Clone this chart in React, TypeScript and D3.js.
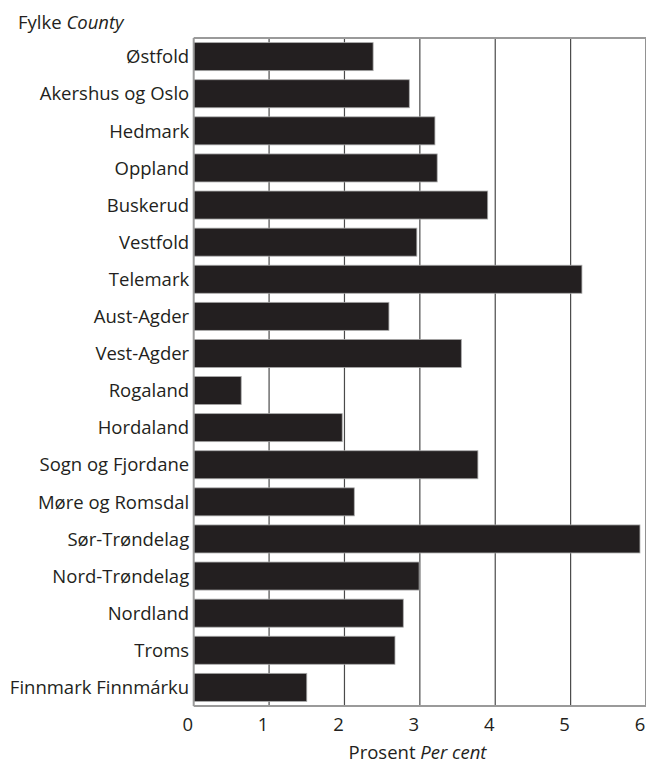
import React from 'react'
import * as d3 from 'd3'

const counties = [
  'Østfold',
  'Akershus og Oslo',
  'Hedmark',
  'Oppland',
  'Buskerud',
  'Vestfold',
  'Telemark',
  'Aust-Agder',
  'Vest-Agder',
  'Rogaland',
  'Hordaland',
  'Sogn og Fjordane',
  'Møre og Romsdal',
  'Sør-Trøndelag',
  'Nord-Trøndelag',
  'Nordland',
  'Troms',
  'Finnmark Finnmárku'
]
const percent = [
  2.38, 2.86, 3.2, 3.23, 3.9, 2.96, 5.15, 2.59, 3.55, 0.63, 1.97, 3.77, 2.13,
  5.92, 2.99, 2.78, 2.67, 1.5
]
const ticks = [0, 1, 2, 3, 4, 5, 6]

const W = 646
const H = 762
const left = 193.7
const right = 646
const top = 38
const bottom = 706
const font = '"Open Sans", "Noto Sans", sans-serif'

export default function App() {
  const x = d3.scaleLinear().domain([0, 6]).range([left, right])
  const y = d3
    .scaleBand<string>()
    .domain(counties)
    .range([top, bottom])
    .paddingInner(0.245)
    .paddingOuter(0.125)

  return (
    <svg
      width={W}
      height={H}
      style={{ position: 'absolute', left: 0, top: 0, background: '#fff' }}
      fontFamily={font}
    >
      {/* grid */}
      {ticks.slice(1).map(t => (
        <line
          key={'g' + t}
          x1={x(t)}
          x2={x(t)}
          y1={top}
          y2={bottom}
          stroke="#4a4a4a"
          strokeWidth={1.2}
        />
      ))}
      {counties.map((c, i) => (
        <rect
          key={c}
          x={x(0)}
          y={y(c)}
          width={x(percent[i]) - x(0)}
          height={y.bandwidth()}
          fill="#231f20"
          stroke="#a8a8a8"
          strokeWidth={0.8}
        />
      ))}
      {/* frame */}
      <line x1={left} x2={W} y1={top} y2={top} stroke="#9a9a9a" strokeWidth={2} />
      <line x1={left} x2={left} y1={top} y2={bottom} stroke="#9a9a9a" strokeWidth={2} />
      <line x1={left} x2={W} y1={bottom} y2={bottom} stroke="#9a9a9a" strokeWidth={2} />

      {counties.map(c => (
        <text
          key={'l' + c}
          x={left - 4.5}
          y={(y(c) as number) + y.bandwidth() / 2}
          dy="0.36em"
          textAnchor="end"
          fontSize={18.5}
          fill="#231f20"
        >
          {c}
        </text>
      ))}
      {ticks.map(t => (
        <text
          key={'t' + t}
          x={x(t) - 6}
          y={731}
          textAnchor="middle"
          fontSize={18.5}
          fill="#231f20"
        >
          {t}
        </text>
      ))}
      <text x={417.5} y={759} textAnchor="middle" fontSize={18.5} fill="#231f20">
        Prosent <tspan fontStyle="italic">Per cent</tspan>
      </text>
      <text x={18} y={29} fontSize={18.5} fill="#231f20">
        Fylke <tspan fontStyle="italic">County</tspan>
      </text>
    </svg>
  )
}
